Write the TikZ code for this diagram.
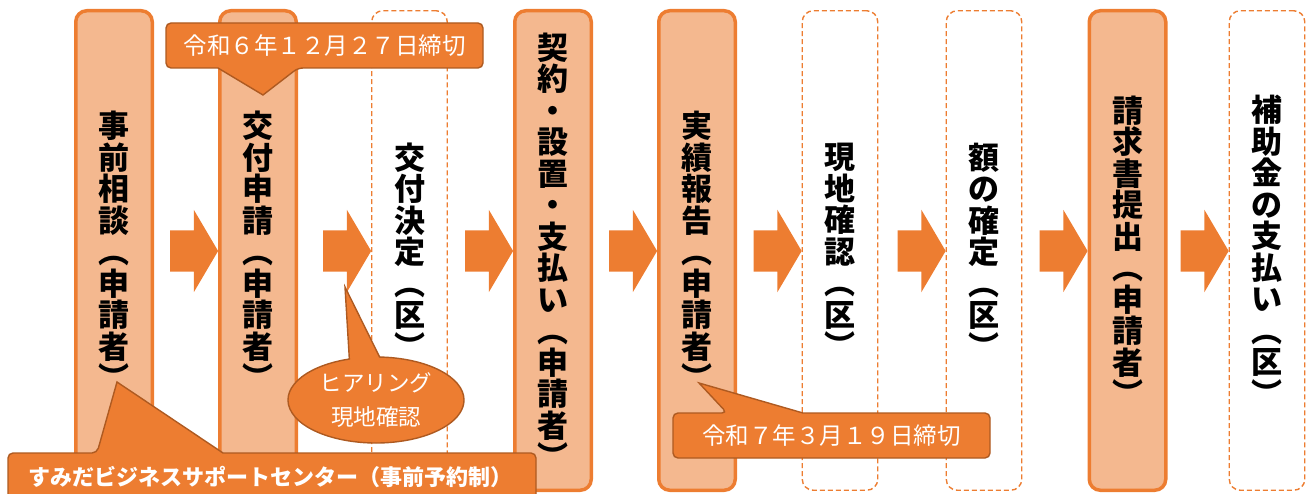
\documentclass[tikz,border=0pt]{standalone}
\usepackage{fontspec}
\setmainfont{Noto Sans CJK JP}
\usetikzlibrary{calc,shapes.arrows,shapes.callouts}

\definecolor{accent}{HTML}{ED7D31}
\definecolor{peach}{HTML}{F4B88F}
\definecolor{rust}{HTML}{AE5A21}

\begin{document}
\begin{tikzpicture}[x=1pt,y=-1pt]
	    \tikzstyle{every node}=[inner sep=0pt,align=center]
	    \tikzstyle{applicant}=[rectangle,rounded corners=11pt,draw=accent,line width=3.5pt,fill=peach,
	        minimum width=76.5pt,minimum height=479.5pt,font=\bfseries\fontsize{31}{31.5}\selectfont]
	    \tikzstyle{ward}=[rectangle,rounded corners=11pt,draw=accent,line width=1.4pt,dash pattern=on 5pt off 3pt,
	        fill=white,minimum width=75.5pt,minimum height=479.5pt,font=\bfseries\fontsize{31}{31.5}\selectfont]
	    \tikzstyle{flow}=[single arrow,fill=accent,inner ysep=20.5pt,inner xsep=0pt,
	        single arrow head extend=20.5pt,single arrow tip angle=119,minimum height=48pt]
	    \tikzstyle{note}=[fill=accent,draw=rust,line width=1.4pt,rounded corners=5pt]
	    \tikzstyle{notetext}=[text=white,font=\fontsize{23.5}{28}\selectfont]
	    \useasboundingbox (0,0) rectangle (1306,494);
	    \clip (0,0) rectangle (1306,494);

	    % steps
	    \node[applicant] (c1) at (114,250.5) {事\\前\\相\\談\\︵\\申\\請\\者\\︶};
	    \node[applicant] (c2) at (258,250.5) {交\\付\\申\\請\\︵\\申\\請\\者\\︶};
	    \node[ward] (c3) at (409.5,250.5) {交\\付\\決\\定\\︵\\区\\︶};
	    \node[applicant] (c4) at (553,250.5) {契\\約\\・\\設\\置\\・\\支\\払\\い\\︵\\申\\請\\者\\︶};
	    \node[applicant] (c5) at (697,250.5) {実\\績\\報\\告\\︵\\申\\請\\者\\︶};
	    \node[ward] (c6) at (840,250.5) {現\\地\\確\\認\\︵\\区\\︶};
	    \node[ward] (c7) at (984,250.5) {額\\の\\確\\定\\︵\\区\\︶};
	    \node[applicant] (c8) at (1127.5,250.5) {請\\求\\書\\提\\出\\︵\\申\\請\\者\\︶};
	    \node[ward] (c9) at (1267,250.5) {補\\助\\金\\の\\支\\払\\い\\︵\\区\\︶};

	    % arrows
	    \node[flow] (a1) at ($(c2.west)+(-30,0.5)$) {};
	    \node[flow] (a2) at ($(c3.west)+(-30,0.5)$) {};
	    \node[flow] (a3) at ($(c4.west)+(-30,0.5)$) {};
	    \node[flow] (a4) at ($(c5.west)+(-30,0.5)$) {};
	    \node[flow] (a5) at ($(c6.west)+(-30,0.5)$) {};
	    \node[flow] (a6) at ($(c7.west)+(-30,0.5)$) {};
	    \node[flow] (a7) at ($(c8.west)+(-30,0.5)$) {};
	    \node[flow] (a8) at ($(c9.west)+(-30,0.5)$) {};

	    % notes
	    \draw[note] (324,23) -- (483,23) -- (483,68) -- (298,68) [sharp corners] -- (263,95) -- (218,68)
	        [rounded corners=5pt] -- (166,68) -- (166,23) -- cycle
	        (324.5,45.5) node[notetext] (n1) {令和６年１２月２７日締切};
	    \node[ellipse callout,fill=accent,draw=rust,line width=1.4pt,minimum width=176pt,minimum height=86pt,
	        callout absolute pointer={(345,287)},callout pointer arc=20,text=white,
	        font=\fontsize{22.5}{34}\selectfont] (n2) at (376,400) {ヒアリング\\現地確認};
	    \draw[note] (272,501) -- (8,501) -- (8,453) -- (97,453) [sharp corners] -- (117,382) -- (223,453)
	        [rounded corners=5pt] -- (536,453) -- (536,501) -- cycle
	        (270,477) node[notetext,font=\bfseries\fontsize{22}{26}\selectfont] (n3) {すみだビジネスサポートセンター（事前予約制）};
	    \draw[note] (831,458) -- (673,458) -- (673,413) -- (727,413) [sharp corners] -- (699,383) -- (803,413)
	        [rounded corners=5pt] -- (990,413) -- (990,458) -- cycle
	        (831.5,435.5) node[notetext] (n4) {令和７年３月１９日締切};
\end{tikzpicture}
\end{document}
